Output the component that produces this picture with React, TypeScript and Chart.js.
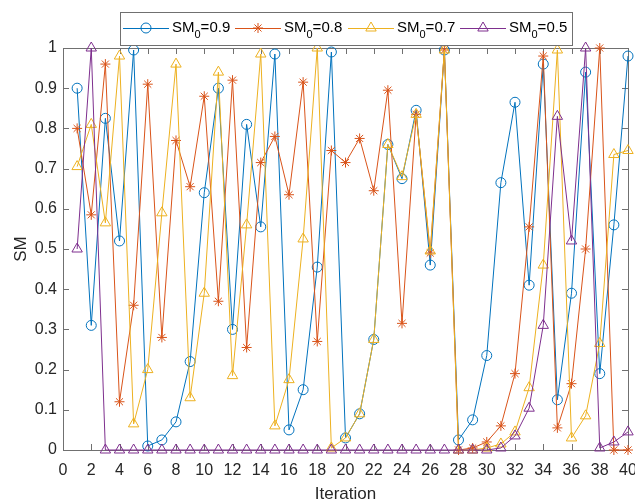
import React, { useEffect, useRef } from 'react';
import { Chart, registerables } from 'chart.js';

Chart.register(...registerables);

// Iteration index (x axis)
const iterations = [
  1, 2, 3, 4, 5, 6, 7, 8, 9, 10,
  11, 12, 13, 14, 15, 16, 17, 18, 19, 20,
  21, 22, 23, 24, 25, 26, 27, 28, 29, 30,
  31, 32, 33, 34, 35, 36, 37, 38, 39, 40,
];

// Initial SM values, one per series
const sm0Values = ['0.9', '0.8', '0.7', '0.5'];

// SM trajectories
const smFrom09 = [
  0.90, 0.31, 0.825, 0.52, 0.995, 0.01, 0.025, 0.07, 0.22, 0.64,
  0.90, 0.30, 0.81, 0.555, 0.985, 0.05, 0.15, 0.455, 0.99, 0.03,
  0.09, 0.275, 0.76, 0.675, 0.845, 0.46, 0.995, 0.025, 0.075, 0.235,
  0.665, 0.865, 0.41, 0.96, 0.125, 0.39, 0.94, 0.19, 0.56, 0.98,
];
const smFrom08 = [
  0.80, 0.585, 0.96, 0.12, 0.36, 0.91, 0.28, 0.77, 0.655, 0.88,
  0.37, 0.92, 0.255, 0.715, 0.78, 0.635, 0.915, 0.27, 0.745, 0.715,
  0.775, 0.645, 0.895, 0.315, 0.835, 0.49, 0.995, 0.0, 0.005, 0.02,
  0.06, 0.19, 0.555, 0.98, 0.055, 0.165, 0.50, 1.0, 0.0, 0.0,
];
const smFrom07 = [
  0.705, 0.81, 0.565, 0.98, 0.065, 0.20, 0.59, 0.96, 0.13, 0.39,
  0.94, 0.185, 0.56, 0.985, 0.06, 0.175, 0.525, 1.0, 0.005, 0.03,
  0.09, 0.275, 0.76, 0.68, 0.835, 0.495, 0.995, 0.0, 0.0, 0.005,
  0.015, 0.045, 0.155, 0.46, 0.995, 0.03, 0.085, 0.265, 0.735, 0.745,
];
const smFrom05 = [
  0.50, 1.0, 0.0, 0.0, 0.0, 0.0, 0.0, 0.0, 0.0, 0.0,
  0.0, 0.0, 0.0, 0.0, 0.0, 0.0, 0.0, 0.0, 0.0, 0.0,
  0.0, 0.0, 0.0, 0.0, 0.0, 0.0, 0.0, 0.0, 0.0, 0.0,
  0.005, 0.035, 0.104, 0.31, 0.83, 0.52, 1.0, 0.005, 0.02, 0.045,
];

const seriesValues = [smFrom09, smFrom08, smFrom07, smFrom05];
const seriesColors = ['#0072BD', '#D95319', '#EDB120', '#7E2F8E'];
const seriesMarkers = ['circle', 'star', 'triangle', 'triangle'];
const seriesRadius = [5, 5, 6, 6];

const FONT = '"Liberation Sans", Arial, Helvetica, sans-serif';
const AXIS_COLOR = '#707070';
const TEXT_COLOR = '#262626';

function drawMarker(ctx: CanvasRenderingContext2D, style: string, x: number, y: number, r: number) {
  ctx.beginPath();
  if (style === 'circle') {
    ctx.arc(x, y, r, 0, Math.PI * 2);
  } else if (style === 'triangle') {
    for (let k = 0; k < 3; k++) {
      const a = (k * 2 * Math.PI) / 3;
      const px = x + Math.sin(a) * r;
      const py = y - Math.cos(a) * r;
      if (k === 0) ctx.moveTo(px, py);
      else ctx.lineTo(px, py);
    }
    ctx.closePath();
  } else {
    for (let k = 0; k < 4; k++) {
      const a = (k * Math.PI) / 4;
      ctx.moveTo(x - Math.cos(a) * r, y - Math.sin(a) * r);
      ctx.lineTo(x + Math.cos(a) * r, y + Math.sin(a) * r);
    }
  }
  ctx.stroke();
}

// Axes box with inward tick marks on all four sides
const framePlugin = {
  id: 'frame',
  beforeDatasetsDraw(chart: any) {
    const { ctx, chartArea } = chart;
    const { left, right, top, bottom } = chartArea;
    const xs = chart.scales.x;
    const ys = chart.scales.y;
    ctx.save();
    ctx.strokeStyle = AXIS_COLOR;
    ctx.lineWidth = 1;
    ctx.strokeRect(Math.round(left) + 0.5, Math.round(top) + 0.5, Math.round(right - left), Math.round(bottom - top));
    ctx.beginPath();
    const tl = 6;
    xs.ticks.forEach((t: any) => {
      const px = Math.round(xs.getPixelForValue(t.value)) + 0.5;
      ctx.moveTo(px, bottom);
      ctx.lineTo(px, bottom - tl);
      ctx.moveTo(px, top);
      ctx.lineTo(px, top + tl);
    });
    ys.ticks.forEach((t: any) => {
      const py = Math.round(ys.getPixelForValue(t.value)) + 0.5;
      ctx.moveTo(left, py);
      ctx.lineTo(left + tl, py);
      ctx.moveTo(right, py);
      ctx.lineTo(right - tl, py);
    });
    ctx.stroke();
    ctx.restore();
  },
};

// Boxed horizontal legend with line + marker samples and subscripted labels
const legendStarts = [123, 235, 348, 460];
const boxLegendPlugin = {
  id: 'boxLegend',
  afterDraw(chart: any) {
    const ctx: CanvasRenderingContext2D = chart.ctx;
    const x0 = 120;
    const y0 = 12;
    const x1 = 572;
    const y1 = 45;
    const cy = 28;
    ctx.save();
    ctx.fillStyle = '#ffffff';
    ctx.fillRect(x0, y0, x1 - x0, y1 - y0);
    ctx.strokeStyle = AXIS_COLOR;
    ctx.lineWidth = 1;
    ctx.strokeRect(x0 + 0.5, y0 + 0.5, x1 - x0, y1 - y0);
    chart.data.datasets.forEach((ds: any, i: number) => {
      let x = legendStarts[i];
      ctx.strokeStyle = ds.borderColor;
      ctx.lineWidth = 1;
      ctx.beginPath();
      ctx.moveTo(x, cy + 0.5);
      ctx.lineTo(x + 46, cy + 0.5);
      ctx.stroke();
      drawMarker(ctx, seriesMarkers[i], x + 23, cy, seriesRadius[i]);
      x += 49;
      ctx.fillStyle = '#000000';
      ctx.textBaseline = 'middle';
      ctx.textAlign = 'left';
      ctx.font = `15px ${FONT}`;
      ctx.fillText('SM', x, cy);
      x += ctx.measureText('SM').width;
      ctx.font = `11px ${FONT}`;
      ctx.fillText('0', x, cy + 7);
      x += ctx.measureText('0').width;
      ctx.font = `15px ${FONT}`;
      ctx.fillText('=' + sm0Values[i], x, cy);
    });
    ctx.restore();
  },
};

export default function App() {
  const canvasRef = useRef<HTMLCanvasElement | null>(null);

  useEffect(() => {
    if (!canvasRef.current) return;
    Chart.defaults.font.family = FONT;

    const datasets = seriesValues.map((vals, i) => ({
      label: 'SM0=' + sm0Values[i],
      data: iterations.map((it, k) => ({ x: it, y: vals[k] })),
      borderColor: seriesColors[i],
      backgroundColor: 'transparent',
      borderWidth: 1,
      pointStyle: seriesMarkers[i],
      pointRadius: seriesRadius[i],
      pointBorderWidth: 1,
      pointBorderColor: seriesColors[i],
      pointBackgroundColor: 'transparent',
      tension: 0,
      clip: false as any,
      order: 3 - i,
    }));

    const chart = new Chart(canvasRef.current, {
      type: 'line',
      data: { datasets },
      plugins: [framePlugin, boxLegendPlugin],
      options: {
        animation: false,
        responsive: true,
        maintainAspectRatio: false,
        layout: { padding: { top: 48, right: 5, left: 0, bottom: 0 } },
        plugins: {
          legend: { display: false },
          tooltip: { enabled: false },
        },
        scales: {
          x: {
            type: 'linear',
            min: 0,
            max: 40,
            grid: { display: false, drawTicks: false },
            border: { display: false },
            ticks: { stepSize: 2, color: TEXT_COLOR, font: { size: 16 }, padding: 11, maxRotation: 0, autoSkip: false },
            title: { display: true, text: 'Iteration', color: TEXT_COLOR, font: { size: 17 }, padding: { top: 0, bottom: -3 } },
            afterFit: (s: any) => {
              s.height = 52;
              s.paddingLeft = 0;
              s.paddingRight = 0;
            },
          },
          y: {
            type: 'linear',
            min: 0,
            max: 1,
            grid: { display: false, drawTicks: false },
            border: { display: false },
            ticks: {
              stepSize: 0.1,
              color: TEXT_COLOR,
              font: { size: 16 },
              padding: 6,
              callback: (v: any) => String(Math.round(Number(v) * 10) / 10),
            },
            title: { display: true, text: 'SM', color: TEXT_COLOR, font: { size: 17 }, padding: { top: 11, bottom: 0 } },
            afterFit: (s: any) => {
              s.width = 63;
              s.paddingTop = 0;
              s.paddingBottom = 0;
            },
          },
        },
      },
    });

    return () => chart.destroy();
  }, []);

  return (
    <div style={{ position: 'fixed', left: 0, top: 0, width: 635, height: 502, background: '#ffffff' }}>
      <canvas ref={canvasRef} />
    </div>
  );
}
